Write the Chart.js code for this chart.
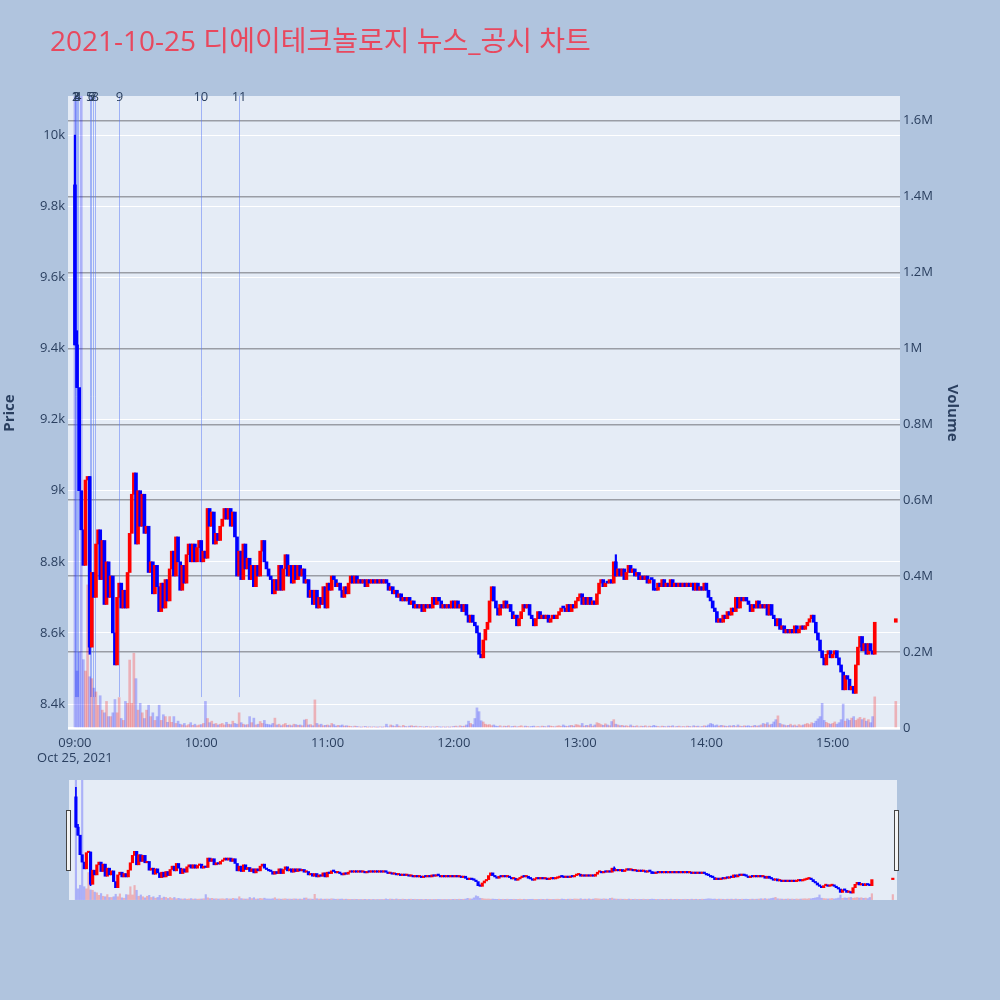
<!DOCTYPE html>
<html>
<head>
<meta charset="utf-8">
<script src="https://cdn.jsdelivr.net/npm/chart.js@4.4.1/dist/chart.umd.min.js"></script>
<style>
  html, body { margin: 0; padding: 0; background: #b0c4de; }
  #wrap { position: relative; width: 1000px; height: 1000px; }
  #title { position: absolute; left: 50px; top: 19px; font-size: 28px; font-family: "Open Sans", "Noto Sans CJK KR", sans-serif; color: #e8485e; white-space: nowrap; }
  #main { position: absolute; left: 0; top: 0; width: 1000px; height: 770px; }
  #slider { position: absolute; left: 60px; top: 780px; width: 845px; height: 120px; }
</style>
</head>
<body>
<div id="wrap">
  <canvas id="main" width="1000" height="770"></canvas>
  <canvas id="slider" width="845" height="120"></canvas>
  <div id="title">2021-10-25 디에이테크놀로지 뉴스_공시 차트</div>
</div>
<script>
// 1분봉 종가 (09:00 부터, 분 단위 인덱스)
const openingPrice = 9860;
const closes = [
  9410, 9290, 9000, 8890, 8790, 9030, 9040, 8560, 8770, 8700,
  8850, 8890, 8750, 8860, 8680, 8800, 8700, 8760, 8600, 8510,
  8700, 8740, 8670, 8720, 8670, 8770, 8880, 8990, 9050, 8850,
  9000, 8900, 8990, 8880, 8900, 8770, 8800, 8710, 8790, 8730,
  8660, 8740, 8670, 8750, 8690, 8780, 8830, 8760, 8870, 8800,
  8720, 8790, 8740, 8820, 8850, 8800, 8850, 8800, 8840, 8860,
  8800, 8830, 8810, 8950, 8900, 8940, 8850, 8880, 8860, 8900,
  8920, 8950, 8920, 8950, 8900, 8940, 8870, 8760, 8830, 8750,
  8850, 8780, 8810, 8750, 8790, 8730, 8790, 8760, 8830, 8860,
  8800, 8780, 8760, 8750, 8710, 8750, 8720, 8790, 8720, 8780,
  8820, 8760, 8790, 8740, 8790, 8750, 8790, 8760, 8780, 8740,
  8750, 8700, 8720, 8680, 8720, 8670, 8700, 8680, 8730, 8670,
  8740, 8720, 8760, 8750, 8730, 8740, 8720, 8700, 8730, 8710,
  8740, 8760, 8740, 8760, 8740, 8750, 8740, 8750, 8730, 8750,
  8740, 8750, 8740, 8750, 8740, 8750, 8740, 8750, 8740, 8720,
  8730, 8710, 8720, 8700, 8710, 8690, 8700, 8690, 8700, 8680,
  8690, 8670, 8680, 8670, 8680, 8660, 8680, 8670, 8680, 8670,
  8700, 8680, 8700, 8690, 8670, 8680, 8670, 8680, 8670, 8690,
  8670, 8690, 8670, 8680, 8660, 8680, 8650, 8630, 8650, 8630,
  8620, 8600, 8540, 8530, 8580, 8610, 8630, 8690, 8730, 8690,
  8670, 8650, 8680, 8670, 8690, 8670, 8680, 8660, 8640, 8650,
  8620, 8640, 8660, 8680, 8670, 8680, 8650, 8640, 8620, 8640,
  8660, 8640, 8650, 8640, 8650, 8630, 8640, 8650, 8640, 8650,
  8660, 8670, 8670, 8660, 8680, 8660, 8680, 8670, 8690, 8700,
  8710, 8680, 8700, 8680, 8700, 8680, 8690, 8680, 8710, 8740,
  8750, 8730, 8740, 8740, 8750, 8740, 8800, 8760, 8780, 8760,
  8780, 8750, 8770, 8790, 8770, 8780, 8760, 8770, 8750, 8760,
  8750, 8760, 8740, 8750, 8750, 8720, 8720, 8740, 8730, 8750,
  8730, 8740, 8730, 8750, 8730, 8740, 8730, 8740, 8730, 8740,
  8730, 8740, 8730, 8740, 8720, 8740, 8720, 8730, 8720, 8740,
  8720, 8700, 8690, 8670, 8660, 8630, 8640, 8630, 8650, 8640,
  8660, 8650, 8670, 8660, 8700, 8670, 8700, 8690, 8700, 8690,
  8680, 8660, 8680, 8670, 8690, 8670, 8680, 8670, 8680, 8650,
  8680, 8650, 8640, 8620, 8640, 8610, 8620, 8600, 8610, 8600,
  8610, 8600, 8620, 8600, 8610, 8620, 8610, 8620, 8630, 8640,
  8650, 8630, 8600, 8580, 8550, 8530, 8510, 8540, 8550, 8530,
  8540, 8550, 8530, 8510, 8490, 8440, 8480, 8470, 8440, 8450,
  8430, 8510, 8560, 8590, 8550, 8570, 8540, 8570, 8550, 8540, 8630
];

// 1분봉 거래량 (천주)
const volumesK = [
  1750, 150, 200, 1750, 180, 150, 377, 135, 130, 105,
  95, 60, 85, 47, 40, 70, 30, 30, 40, 75,
  40, 80, 25, 20, 70, 65, 179, 65, 197, 130,
  47, 65, 40, 25, 47, 60, 30, 40, 20, 30,
  60, 20, 35, 30, 15, 30, 15, 30, 12, 18,
  10, 8, 12, 6, 9, 14, 7, 10, 6, 8,
  9, 12, 70, 25, 14, 18, 10, 12, 8, 10,
  12, 8, 15, 10, 9, 18, 12, 10, 40, 14,
  10, 8, 9, 30, 14, 26, 8, 10, 17, 12,
  20, 10, 9, 8, 12, 26, 8, 10, 6, 9,
  12, 7, 8, 6, 10, 9, 7, 8, 6, 21,
  23, 8, 9, 6, 74, 12, 8, 10, 6, 7,
  8, 6, 12, 9, 5, 7, 6, 8, 5, 6,
  5, 4, 3, 5, 4, 3, 2, 3, 4, 2,
  3, 2, 3, 2, 2, 3, 2, 3, 10, 3,
  8, 6, 4, 9, 5, 3, 7, 4, 3, 5,
  6, 4, 5, 3, 4, 3, 2, 4, 3, 2,
  3, 2, 4, 3, 2, 3, 2, 3, 2, 3,
  4, 5, 3, 6, 4, 5, 8, 18, 12, 9,
  25, 53, 43, 19, 16, 10, 8, 9, 6, 8,
  5, 4, 6, 3, 5, 4, 6, 3, 4, 5,
  3, 4, 6, 3, 5, 4, 3, 4, 5, 3,
  4, 3, 5, 4, 3, 6, 5, 4, 3, 5,
  6, 4, 8, 5, 4, 6, 7, 5, 9, 8,
  6, 12, 5, 7, 6, 10, 5, 8, 14, 12,
  9, 7, 11, 8, 6, 17, 22, 10, 8, 6,
  7, 5, 6, 4, 8, 5, 4, 6, 3, 5,
  4, 6, 3, 5, 4, 7, 5, 4, 3, 5,
  4, 3, 5, 4, 6, 3, 4, 5, 3, 4,
  3, 5, 4, 3, 6, 4, 5, 3, 4, 6,
  5, 8, 12, 10, 6, 8, 5, 7, 6, 5,
  4, 6, 5, 7, 4, 8, 5, 4, 6, 5,
  6, 4, 5, 7, 5, 6, 8, 12, 10, 14,
  8, 10, 16, 22, 32, 12, 9, 8, 6, 7,
  10, 6, 8, 5, 9, 6, 8, 10, 12, 9,
  14, 12, 18, 24, 30, 65, 20, 15, 12, 10,
  12, 16, 10, 14, 22, 63, 18, 24, 20, 26,
  30, 20, 24, 28, 22, 26, 18, 22, 14, 30, 82
];

// 15:30 종가 단일가
const auctionMinute = 390;
const auctionPrice = 8640;
const auctionVolumeK = 70;

// 꼬리 [분, 저가, 고가]
const wicks = [[0, 9410, 10000], [1, 9290, 9450], [7, 8540, 9040], [257, 8760, 8820]];

// 뉴스/공시 시각 (09:00 기준 분)
const newsTimes = [0.0, 0.4, 0.8, 1.3, 7.0, 7.8, 8.6, 9.6, 21.1, 59.8, 78.0];
const newsLabels = ['1', '2', '3', '4', '5', '6', '7', '8', '9', '10', '11'];

// 눈금
const timeTicks = [0, 60, 120, 180, 240, 300, 360];
const timeTickLabels = [['09:00', 'Oct 25, 2021'], '10:00', '11:00', '12:00', '13:00', '14:00', '15:00'];
const priceTicks = [8400, 8600, 8800, 9000, 9200, 9400, 9600, 9800, 10000];
const priceTickLabels = ['8.4k', '8.6k', '8.8k', '9k', '9.2k', '9.4k', '9.6k', '9.8k', '10k'];
const volumeTicks = [0, 200000, 400000, 600000, 800000, 1000000, 1200000, 1400000, 1600000];
const volumeTickLabels = ['0', '0.2M', '0.4M', '0.6M', '0.8M', '1M', '1.2M', '1.4M', '1.6M'];

const UP = '#ff0000', DOWN = '#0000ff';
const UP_VOL = 'rgba(255, 0, 0, 0.25)', DOWN_VOL = 'rgba(0, 0, 255, 0.25)';
const tickColor = '#2a3f5f';
const fontFamily = '"Open Sans", "Noto Sans", sans-serif';

// 캔들 / 거래량 데이터 만들기
const candles = [], candleColors = [], volumeBars = [], volumeColors = [];
closes.forEach((c, i) => {
    const o = i === 0 ? openingPrice : closes[i - 1];
    const up = c > o;
    candles.push({ x: i, y: [o, c] });
    candleColors.push(up ? UP : DOWN);
    volumeBars.push({ x: i, y: volumesK[i] * 1000 });
    volumeColors.push(up ? UP_VOL : DOWN_VOL);
});
const lastClose = closes[closes.length - 1];
candles.push({ x: auctionMinute, y: [lastClose, auctionPrice] });
candleColors.push(auctionPrice > lastClose ? UP : DOWN);
volumeBars.push({ x: auctionMinute, y: auctionVolumeK * 1000 });
volumeColors.push(auctionPrice > lastClose ? UP_VOL : DOWN_VOL);

const wickBars = wicks.map(w => ({ x: w[0], y: [w[1], w[2]] }));
const wickColors = wicks.map(w => candleColors[w[0]]);

// 플롯 배경
const plotBg = {
    id: 'plotBg',
    beforeDraw(chart) {
        const { ctx, chartArea: a } = chart;
        ctx.save();
        ctx.fillStyle = '#e5ecf6';
        ctx.fillRect(a.left, a.top, a.right - a.left, a.bottom - a.top);
        ctx.restore();
    }
};

// 뉴스 세로선 + 번호
const newsMarks = {
    id: 'newsMarks',
    beforeDatasetsDraw(chart) {
        const { ctx, chartArea: a, scales: { x } } = chart;
        const bottom = a.bottom - (a.bottom - a.top) * 0.052;
        ctx.save();
        ctx.strokeStyle = 'rgba(90, 120, 245, 0.5)';
        ctx.lineWidth = 1;
        newsTimes.forEach(t => {
            const px = Math.round(x.getPixelForValue(t)) + 0.5;
            ctx.beginPath();
            ctx.moveTo(px, a.top);
            ctx.lineTo(px, bottom);
            ctx.stroke();
        });
        ctx.restore();
    },
    afterDatasetsDraw(chart) {
        const { ctx, chartArea: a, scales: { x } } = chart;
        ctx.save();
        ctx.fillStyle = tickColor;
        ctx.font = '13px ' + fontFamily;
        ctx.textAlign = 'center';
        ctx.textBaseline = 'middle';
        newsTimes.forEach((t, i) => {
            ctx.fillText(newsLabels[i], x.getPixelForValue(t), a.top + 1);
        });
        ctx.restore();
    }
};

const tickFont = { family: fontFamily, size: 13 };
const titleFont = { family: fontFamily, size: 15, weight: 'bold' };

new Chart(document.getElementById('main'), {
    type: 'bar',
    data: {
        datasets: [
            { label: 'candle', yAxisID: 'y', data: candles, backgroundColor: candleColors,
              barThickness: 3, minBarLength: 2, grouped: false, order: 1 },
            { label: 'wick', yAxisID: 'y', data: wickBars, backgroundColor: wickColors,
              barThickness: 1.5, grouped: false, order: 2 },
            { label: 'volume', yAxisID: 'yVol', data: volumeBars, backgroundColor: volumeColors,
              barThickness: 2, grouped: false, order: 3 }
        ]
    },
    options: {
        responsive: false,
        animation: false,
        layout: { padding: { top: 96, left: 0, right: 38, bottom: 0 } },
        plugins: { legend: { display: false }, tooltip: { enabled: false } },
        scales: {
            x: {
                type: 'linear', min: -3.3, max: 392, offset: false,
                grid: { display: false, drawTicks: false }, border: { display: false },
                afterBuildTicks: s => { s.ticks = timeTicks.map(v => ({ value: v })); },
                afterFit: s => { s.height = 40; },
                ticks: { autoSkip: false, maxRotation: 0, padding: 5, color: tickColor, font: tickFont,
                         callback: (v, i) => timeTickLabels[i] }
            },
            y: {
                position: 'left', min: 8327, max: 10110,
                border: { display: false },
                grid: { color: '#ffffff', lineWidth: 1, drawTicks: false },
                afterBuildTicks: s => { s.ticks = priceTicks.map(v => ({ value: v })); },
                afterFit: s => { s.width = 68; },
                ticks: { padding: 3, color: tickColor, font: tickFont, callback: (v, i) => priceTickLabels[i] },
                title: { display: true, text: 'Price', color: tickColor, font: titleFont, padding: 1 }
            },
            yVol: {
                position: 'right', min: -5300, max: 1665000,
                border: { display: false },
                grid: {
                    drawTicks: false,
                    color: c => c.tick && c.tick.value === 0 ? '#ffffff' : '#9a9da5',
                    lineWidth: c => c.tick && c.tick.value === 0 ? 2 : 1.5
                },
                afterBuildTicks: s => { s.ticks = volumeTicks.map(v => ({ value: v })); },
                afterFit: s => { s.width = 62; },
                ticks: { padding: 3, color: tickColor, font: tickFont, callback: (v, i) => volumeTickLabels[i] },
                title: { display: true, text: 'Volume', color: tickColor, font: titleFont, padding: 1 }
            }
        }
    },
    plugins: [plotBg, newsMarks]
});

// 레인지 슬라이더 손잡이
const sliderHandles = {
    id: 'sliderHandles',
    afterDraw(chart) {
        const { ctx, chartArea: a } = chart;
        ctx.save();
        ctx.fillStyle = '#f4f4f4';
        ctx.strokeStyle = '#444444';
        ctx.lineWidth = 1;
        [a.left, a.right].forEach(px => {
            ctx.fillRect(Math.round(px) - 2.5, a.top + 30.5, 4, 60);
            ctx.strokeRect(Math.round(px) - 2.5, a.top + 30.5, 4, 60);
        });
        ctx.restore();
    }
};

new Chart(document.getElementById('slider'), {
    type: 'bar',
    data: {
        datasets: [
            { yAxisID: 'y', data: candles, backgroundColor: candleColors,
              barThickness: 2.5, minBarLength: 1.5, grouped: false, order: 1 },
            { yAxisID: 'y', data: wickBars, backgroundColor: wickColors,
              barThickness: 1, grouped: false, order: 2 },
            { yAxisID: 'yVol', data: volumeBars, backgroundColor: volumeColors,
              barThickness: 1.5, grouped: false, order: 3 }
        ]
    },
    options: {
        responsive: false,
        animation: false,
        layout: { padding: { top: 0, left: 9, right: 8, bottom: 0 } },
        plugins: { legend: { display: false }, tooltip: { enabled: false } },
        scales: {
            x: { type: 'linear', min: -3.3, max: 392, offset: false, display: false },
            y: { min: 8327, max: 10110, display: false },
            yVol: { position: 'right', min: -5300, max: 1665000, display: false }
        }
    },
    plugins: [plotBg, sliderHandles]
});
</script>
</body>
</html>
